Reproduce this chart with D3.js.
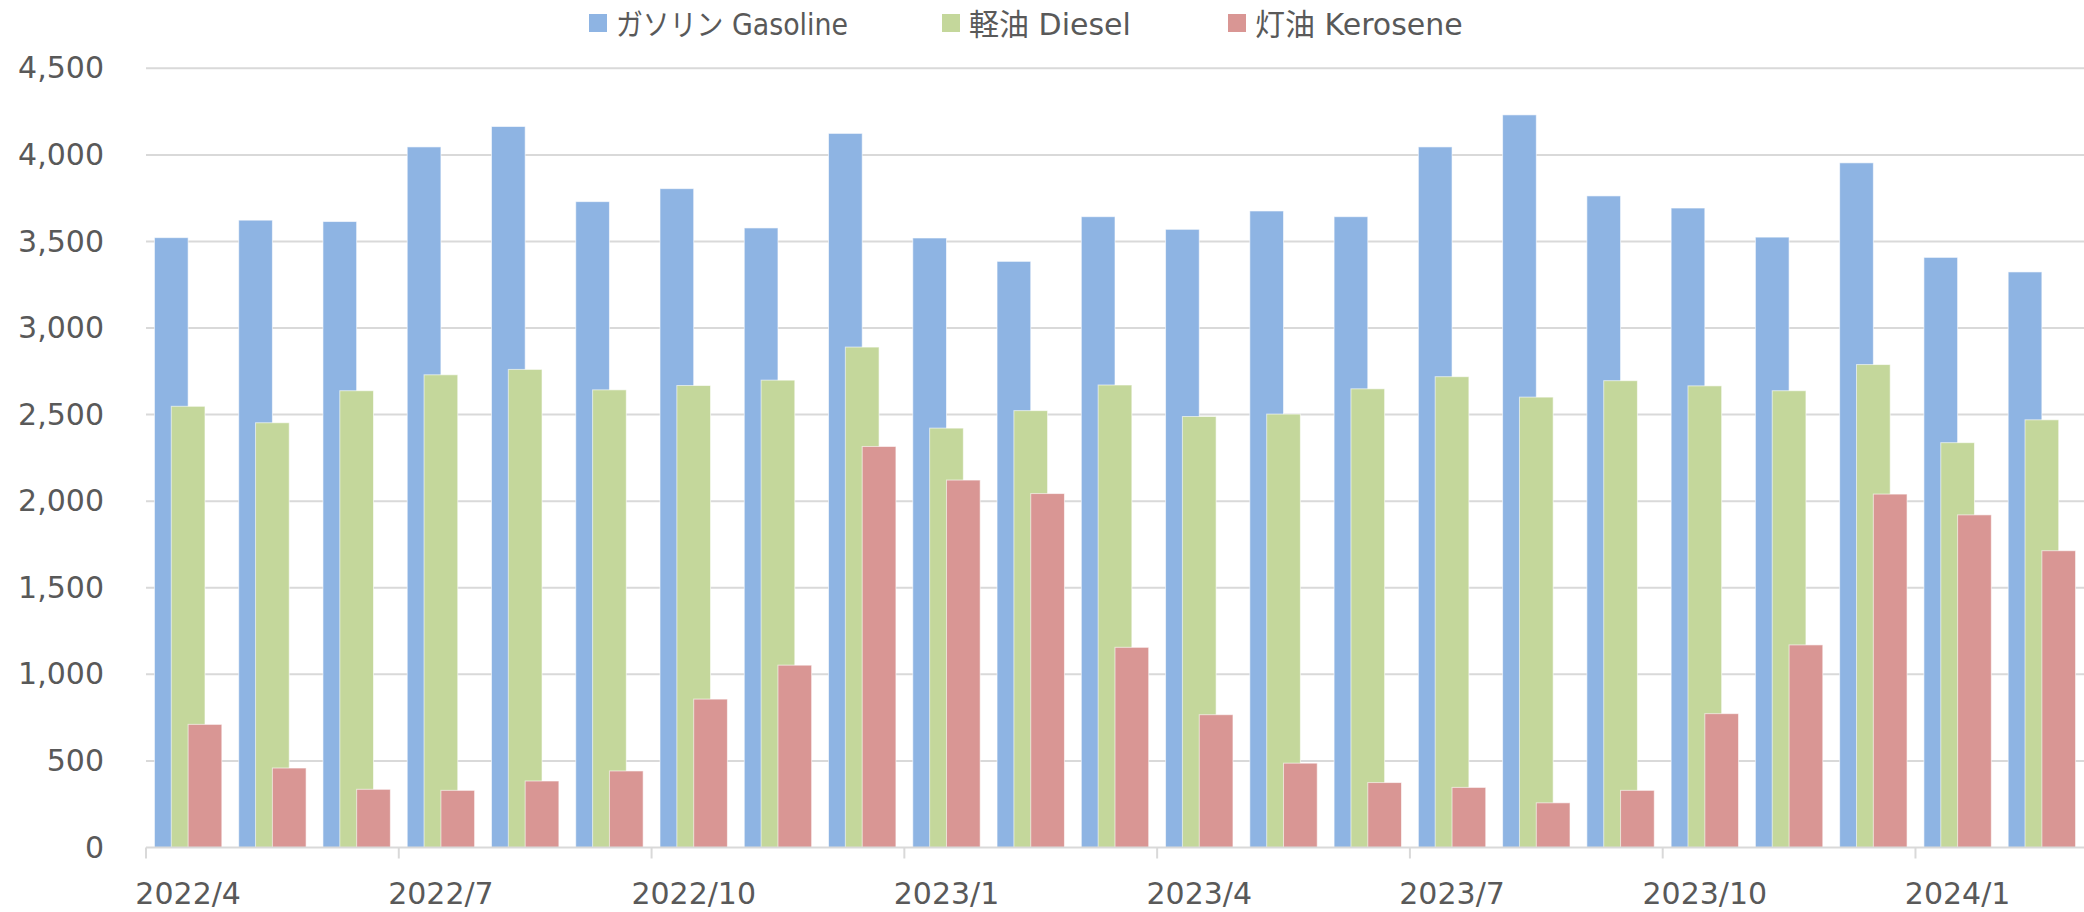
<!DOCTYPE html>
<html>
<head>
<meta charset="utf-8">
<script src="https://cdn.jsdelivr.net/npm/d3@7"></script>
<style>
  body { margin: 0; background: #fff; }
  svg text { font-family: "DejaVu Sans", "Noto Sans CJK JP", sans-serif; fill: #595959; }
</style>
</head>
<body>
<div id="chart"></div>
<script>
const months = ['2022/4','2022/5','2022/6','2022/7','2022/8','2022/9','2022/10','2022/11','2022/12',
  '2023/1','2023/2','2023/3','2023/4','2023/5','2023/6','2023/7','2023/8','2023/9','2023/10','2023/11','2023/12',
  '2024/1','2024/2']

const gasoline = [3522, 3623, 3615, 4046, 4164, 3730, 3805, 3578, 4124, 3520, 3385, 3643,
  3570, 3676, 3643, 4046, 4231, 3763, 3693, 3525, 3954, 3408, 3324]
const diesel = [2548, 2453, 2638, 2730, 2761, 2643, 2668, 2699, 2890, 2422, 2523, 2671,
  2489, 2503, 2649, 2719, 2601, 2696, 2666, 2638, 2789, 2338, 2470]
const kerosene = [711, 459, 336, 330, 384, 442, 857, 1053, 2316, 2122, 2044, 1156,
  767, 487, 375, 347, 258, 330, 773, 1170, 2041, 1921, 1714]

const seriesNames = ['ガソリン Gasoline', '軽油 Diesel', '灯油 Kerosene']
const seriesColors = ['#8EB4E3', '#C4D79B', '#D99694']
const yTicks = [0, 500, 1000, 1500, 2000, 2500, 3000, 3500, 4000, 4500]

const params = {
  width: 2084,
  height: 912,
  left: 146,
  right: 2084,
  top: 68.3,
  bottom: 847.5,
}

const svg = d3.select('#chart')
  .append('svg')
  .attr('width', params.width)
  .attr('height', params.height)

const x = d3.scaleBand()
  .domain(months)
  .range([params.left, params.right])

const y = d3.scaleLinear()
  .domain([0, 4500])
  .range([params.bottom, params.top])

// bar width = 40% of band, series overlap by half a bar
const barW = x.bandwidth() * 0.4
const xs = d3.scalePoint()
  .domain(seriesNames)
  .range([0, barW])

// gridlines
svg.append('g')
  .selectAll('line')
  .data(yTicks.filter(d => d > 0))
  .enter()
  .append('line')
  .attr('x1', params.left)
  .attr('x2', params.right)
  .attr('y1', d => y(d))
  .attr('y2', d => y(d))
  .attr('stroke', '#d9d9d9')
  .attr('stroke-width', 2)

// y axis labels
const yAxis = svg.append('g')
  .attr('transform', `translate(${params.left},0)`)
  .call(d3.axisLeft(y).tickValues(yTicks).tickFormat(d3.format(',')).tickSize(0).tickPadding(42))
yAxis.select('.domain').remove()
yAxis.selectAll('text')
  .style('font-size', '30px')
  .attr('fill', '#595959')

// bars
const table = months.map((m, i) => ({ month: m, values: [gasoline[i], diesel[i], kerosene[i]] }))

seriesNames.forEach((name, s) => {
  svg.append('g')
    .selectAll('rect')
    .data(table)
    .enter()
    .append('rect')
    .attr('x', d => x(d.month) + (x.bandwidth() - 2 * barW) / 2 + xs(name))
    .attr('y', d => y(d.values[s]))
    .attr('width', barW)
    .attr('height', d => y(0) - y(d.values[s]))
    .attr('fill', seriesColors[s])
    .attr('stroke', 'rgba(255,255,255,0.6)')
    .attr('stroke-width', 1)
})

// x axis
const xAxis = svg.append('g')
  .attr('transform', `translate(0,${params.bottom})`)
  .call(d3.axisBottom(x)
    .tickValues(months.filter((d, i) => i % 3 === 0))
    .tickSize(11)
    .tickSizeOuter(0)
    .tickPadding(24))
xAxis.select('.domain')
  .attr('stroke', '#d9d9d9')
  .attr('stroke-width', 2)
  .attr('d', `M${params.left},0H${params.right}`)
xAxis.selectAll('.tick line')
  .attr('stroke', '#d9d9d9')
  .attr('stroke-width', 2)
  .attr('x1', -x.bandwidth() / 2)
  .attr('x2', -x.bandwidth() / 2)
xAxis.selectAll('text')
  .style('font-size', '30px')
  .attr('fill', '#595959')

// legend
const legendX = [589, 942, 1228]
const legend = svg.append('g')
  .selectAll('g')
  .data(seriesNames)
  .enter()
  .append('g')
  .attr('transform', (d, i) => `translate(${legendX[i]},0)`)
legend.append('rect')
  .attr('x', 0)
  .attr('y', 14)
  .attr('width', 18)
  .attr('height', 18)
  .attr('fill', (d, i) => seriesColors[i])
legend.append('text')
  .attr('x', 27)
  .attr('y', 35)
  .style('font-size', '30px')
  .text(d => d)
  // katakana in the original font is narrow
  .filter((d, i) => i === 0)
  .attr('textLength', 232)
  .attr('lengthAdjust', 'spacingAndGlyphs')
</script>
</body>
</html>
